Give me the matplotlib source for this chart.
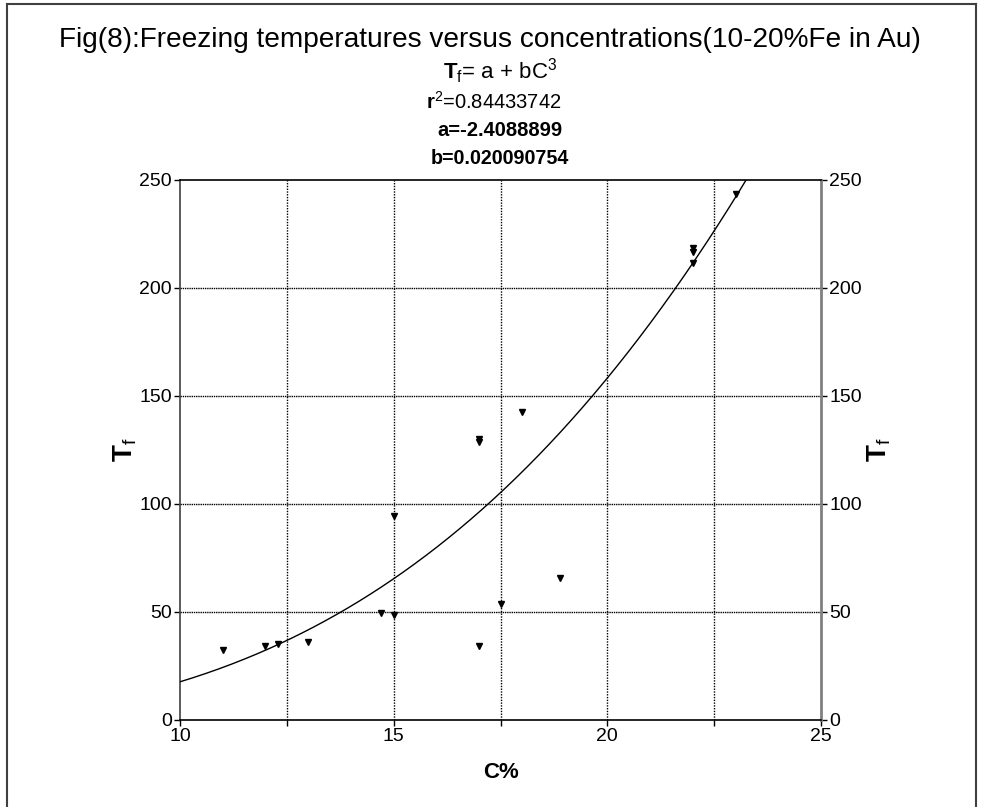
import numpy as np
import matplotlib
matplotlib.use("Agg")
import matplotlib.pyplot as plt
from matplotlib.lines import Line2D

plt.rcParams['font.family'] = ['Liberation Sans', 'DejaVu Sans']
plt.rcParams['mathtext.fontset'] = 'custom'
plt.rcParams['mathtext.rm'] = 'Liberation Sans'
plt.rcParams['mathtext.it'] = 'Liberation Sans'
plt.rcParams['mathtext.bf'] = 'Liberation Sans:bold'

# data
conc = [11.0, 12.0, 12.3, 13.0, 14.7, 15.0, 15.0, 17.0, 17.0, 17.0, 17.5, 18.0, 18.9, 22.0, 22.0, 22.0, 23.0]
temp = [32.5, 34.3, 35.3, 36.1, 49.4, 48.8, 94.4, 34.4, 130.3, 128.5, 53.7, 142.4, 65.6, 218.4, 216.8, 211.4, 243.5]

# fit parameters shown on the chart
fit_a = -2.4088899
fit_b = 0.020090754
fit_r2 = 0.84433742

xticks = [10, 12.5, 15, 17.5, 20, 22.5, 25]
xticklabels = ['10', '', '15', '', '20', '', '25']
yticks = [0, 50, 100, 150, 200, 250]

fig = plt.figure(figsize=(9.81, 8.07), dpi=100)
ax = fig.add_axes([180/981, 1-720/807, (821-180)/981, (720-180)/807])

ax.set_xlim(10, 25)
ax.set_ylim(0, 250)

# grid
for xv in xticks[1:-1]:
    ax.axvline(xv, color='black', lw=1.0, ls=(0, (1, 1)), zorder=1)
for yv in yticks[1:-1]:
    ax.axhline(yv, color='black', lw=1.0, ls=(0, (1, 0.6)), zorder=1)

# fit curve
cc = np.linspace(10, 25, 400)
ax.plot(cc, fit_a + fit_b * cc**3, color='black', lw=1.0, zorder=3)

# points
ax.plot(conc, temp, linestyle='none', marker='v', markersize=4.5,
        color='black', zorder=4)

ax.set_xticks(xticks)
ax.set_xticklabels(xticklabels, fontsize=14)
ax.set_yticks(yticks)
ax.set_yticklabels([str(v) for v in yticks], fontsize=14)
ax.tick_params(axis='both', direction='out', length=4, width=1, pad=2, colors='black')
ax.tick_params(axis='y', left=True, right=True, labelleft=True, labelright=True)

ax.spines['left'].set_color('#404040')
ax.spines['right'].set_color('#808080')
ax.spines['top'].set_color('black')
ax.spines['bottom'].set_color('black')
for s in ax.spines.values():
    s.set_linewidth(1.2)
ax.spines['right'].set_linewidth(2)

ax.set_xlabel('C%', fontsize=16, fontweight='bold', labelpad=12)

# y labels on both sides
fig.text(125/981, 1-450/807, r'$\mathbf{T}_{\mathrm{f}}$', fontsize=20,
         rotation=90, ha='center', va='center')
fig.text(879/981, 1-450/807, r'$\mathbf{T}_{\mathrm{f}}$', fontsize=20,
         rotation=90, ha='center', va='center')

# titles
fig.text(490/981, 1-40/807, 'Fig(8):Freezing temperatures versus concentrations(10-20%Fe in Au)',
         fontsize=20.2, ha='center', va='center')
fig.text(500/981, 1-71/807, r'$\mathbf{T}_{\mathrm{f}}$= a + bC$^{3}$',
         fontsize=16, ha='center', va='center')
fig.text(494/981, 1-102/807, r'$\mathbf{r}^{2}$' + '=%.8f' % fit_r2,
         fontsize=14.5, ha='center', va='center')
fig.text(500/981, 1-130/807, 'a=%.7f' % fit_a,
         fontsize=14.5, fontweight='bold', ha='center', va='center')
fig.text(500/981, 1-158/807, 'b=%.9f' % fit_b,
         fontsize=14.2, fontweight='bold', ha='center', va='center')

# outer frame
fig.add_artist(Line2D([7/981, 7/981], [0, 1-4/807], transform=fig.transFigure, color='#404040', lw=1.5))
fig.add_artist(Line2D([7/981, 976/981], [1-4/807, 1-4/807], transform=fig.transFigure, color='#404040', lw=1.5))
fig.add_artist(Line2D([976/981, 976/981], [0, 1-4/807], transform=fig.transFigure, color='#404040', lw=1.5))

fig.savefig('out.png', dpi=100)
